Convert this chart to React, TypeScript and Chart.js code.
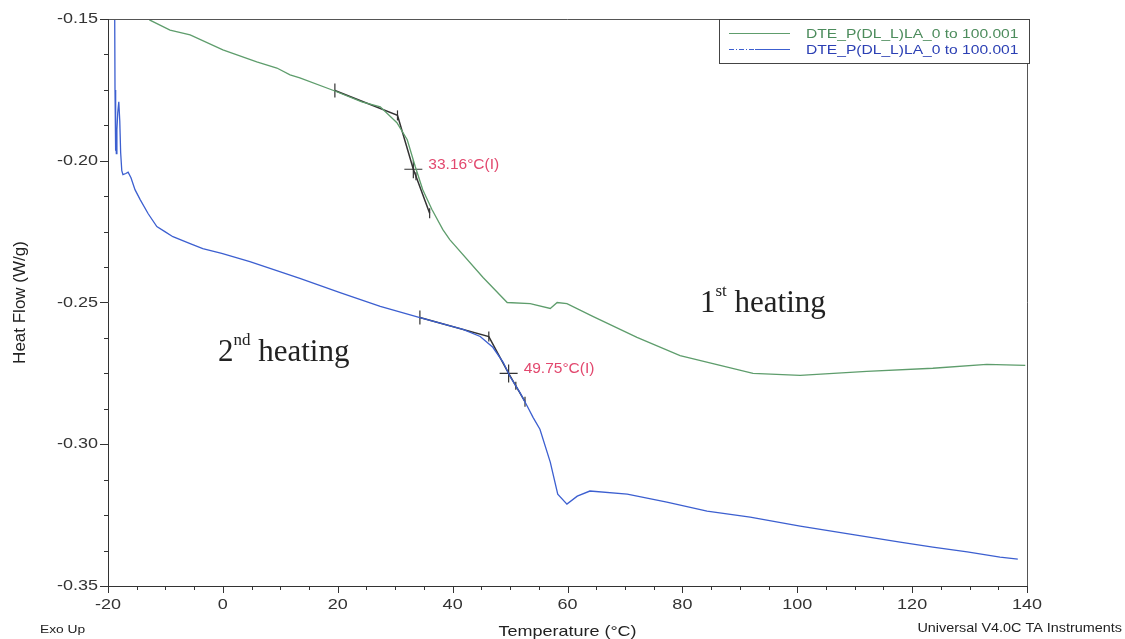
import { useEffect, useRef } from "react";
import { Chart, registerables } from "chart.js";

Chart.register(...registerables);

// ---- DSC run: first heating ----
const firstTemp = [
  -13.5, -12.7, -9.2, -5.7, 0.0, 5.9, 9.4, 11.7, 13.4, 19.5, 24.2, 27.4, 30.3, 32.1,
  33.5, 34.8, 36.4, 38.3, 39.5, 45.3, 49.5, 53.5, 57.0, 58.2, 59.9, 64.4, 72.1, 79.6,
  92.3, 100.5, 112.1, 123.6, 133.0, 139.7,
];
const firstFlow = [
  -0.1488, -0.1504, -0.1539, -0.1556, -0.1609, -0.1651, -0.1673, -0.1697, -0.1708,
  -0.1754, -0.1792, -0.181, -0.1866, -0.1926, -0.2021, -0.2102, -0.2172, -0.2243,
  -0.2278, -0.2412, -0.25, -0.2504, -0.2521, -0.25, -0.2504, -0.2549, -0.2623, -0.2687,
  -0.275, -0.2757, -0.2743, -0.2732, -0.2718, -0.2722,
];

// ---- DSC run: second heating ----
const secondTemp = [
  -18.85, -18.78, -18.72, -18.62, -18.55, -18.45, -18.3, -18.12, -17.95, -17.8, -17.6,
  -17.4, -16.9, -16.5, -16.0, -15.3, -14.4, -13.0, -11.5, -10.1, -8.7, -5.7, -3.5, -0.2,
  4.7, 9.9, 13.4, 20.4, 27.4, 34.3, 41.8, 44.8, 47.0, 48.8, 50.0, 51.7, 53.0, 54.0, 55.2,
  57.0, 58.3, 59.9, 61.7, 63.9, 70.4, 77.3, 84.3, 91.8, 100.5, 109.2, 117.9, 123.6,
  129.6, 135.3, 138.4,
];
const secondFlow = [
  -0.14, -0.175, -0.1965, -0.19, -0.1975, -0.189, -0.183, -0.1792, -0.186, -0.197,
  -0.2035, -0.2049, -0.2045, -0.204, -0.206, -0.2102, -0.2137, -0.2187, -0.2232, -0.225,
  -0.2268, -0.2292, -0.231, -0.2327, -0.2356, -0.2391, -0.2415, -0.2465, -0.2514,
  -0.2553, -0.2595, -0.262, -0.2658, -0.2711, -0.2761, -0.2817, -0.2866, -0.2905,
  -0.2947, -0.3063, -0.3176, -0.3211, -0.3183, -0.3165, -0.3176, -0.3204, -0.3236,
  -0.3257, -0.3289, -0.3317, -0.3345, -0.3363, -0.338, -0.3398, -0.3405,
];

// ---- Glass transition construction lines (index 2 = inflection point) ----
const onsetFirstTemp = [19.5, 30.4, 33.16, 33.62, 36.0];
const onsetFirstFlow = [-0.1752, -0.184, -0.203, -0.2055, -0.2185];
const onsetSecondTemp = [34.3, 46.3, 49.75, 51.0, 52.6];
const onsetSecondFlow = [-0.2553, -0.262, -0.275, -0.2794, -0.285];
const inflectionIndex = 2;

const seriesLabels = ["DTE_P(DL_L)LA_0 to 100.001", "DTE_P(DL_L)LA_0 to 100.001"];

// ---- Axes ----
const xTickLabels = [-20, 0, 20, 40, 60, 80, 100, 120, 140];
const yTickLabels = [-0.15, -0.2, -0.25, -0.3, -0.35];
const xMinorStep = 5;
const yMinorStep = 0.0125;

const GREEN = "#5e9d6c";
const BLUE = "#3c5fd0";
const GREEN_TEXT = "#4c8c5c";
const BLUE_TEXT = "#2c40b4";
const PINK = "#e2486e";
const INK = "#333333";
const SANS = '"Liberation Sans", Arial, sans-serif';
const SERIF = '"Liberation Serif", "Times New Roman", serif';
const STRETCH = 1.2;

const toPoints = (xs: number[], ys: number[]) => xs.map((x, i) => ({ x, y: ys[i] }));

function drawText(
  ctx: CanvasRenderingContext2D,
  text: string,
  x: number,
  y: number,
  font: string,
  color: string,
  align: "left" | "center" | "right",
  sx = 1,
  baseline: CanvasTextBaseline = "alphabetic"
) {
  ctx.save();
  ctx.font = font;
  ctx.fillStyle = color;
  ctx.textBaseline = baseline;
  ctx.textAlign = "left";
  const w = ctx.measureText(text).width * sx;
  const x0 = align === "left" ? x : align === "center" ? x - w / 2 : x - w;
  ctx.translate(x0, y);
  ctx.scale(sx, 1);
  ctx.fillText(text, 0, 0);
  ctx.restore();
  return w;
}

// "1st heating" style annotation with a superscript ordinal
function drawOrdinal(
  ctx: CanvasRenderingContext2D,
  num: string,
  sup: string,
  rest: string,
  x: number,
  y: number
) {
  let cx = x;
  cx += drawText(ctx, num, cx, y, `31px ${SERIF}`, "#222", "left");
  cx += drawText(ctx, sup, cx, y - 16, `17px ${SERIF}`, "#222", "left");
  ctx.font = `31px ${SERIF}`;
  cx += ctx.measureText(" ").width;
  drawText(ctx, rest, cx, y, `31px ${SERIF}`, "#222", "left");
}

const framePlugin = {
  id: "taFrame",
  afterDraw(chart: any) {
    const { ctx, chartArea: a, scales } = chart;
    const xs = scales.x;
    const ys = scales.y;
    ctx.save();
    ctx.lineWidth = 1;

    // frame
    ctx.strokeStyle = "#555";
    ctx.beginPath();
    ctx.moveTo(a.left, a.top + 0.5);
    ctx.lineTo(a.right + 0.5, a.top + 0.5);
    ctx.lineTo(a.right + 0.5, a.bottom);
    ctx.stroke();
    ctx.strokeStyle = INK;
    ctx.beginPath();
    ctx.moveTo(a.left + 0.5, a.top);
    ctx.lineTo(a.left + 0.5, a.bottom + 0.5);
    ctx.lineTo(a.right + 0.5, a.bottom + 0.5);
    ctx.stroke();

    // x ticks
    const xMin = xTickLabels[0];
    const xMax = xTickLabels[xTickLabels.length - 1];
    ctx.beginPath();
    for (let t = xMin; t <= xMax + 1e-9; t += xMinorStep) {
      const px = Math.round(xs.getPixelForValue(t)) + 0.5;
      const major = xTickLabels.some((v) => Math.abs(v - t) < 1e-9);
      ctx.moveTo(px, a.bottom);
      ctx.lineTo(px, a.bottom + (major ? 7 : 4));
    }
    // y ticks
    const yMin = yTickLabels[yTickLabels.length - 1];
    const yMax = yTickLabels[0];
    for (let v = yMin; v <= yMax + 1e-9; v += yMinorStep) {
      const py = Math.round(ys.getPixelForValue(v)) + 0.5;
      const major = yTickLabels.some((m) => Math.abs(m - v) < 1e-9);
      ctx.moveTo(a.left, py);
      ctx.lineTo(a.left - (major ? 8 : 4), py);
    }
    ctx.stroke();

    // tick labels
    xTickLabels.forEach((t) => {
      drawText(ctx, String(t), xs.getPixelForValue(t), a.bottom + 23, `15px ${SANS}`, INK, "center", STRETCH);
    });
    yTickLabels.forEach((v) => {
      drawText(ctx, v.toFixed(2), a.left - 10, ys.getPixelForValue(v), `15px ${SANS}`, INK, "right", STRETCH, "middle");
    });

    // axis titles and footer
    drawText(ctx, "Temperature (°C)", (a.left + a.right) / 2, 636, `15px ${SANS}`, "#222", "center", STRETCH);
    drawText(ctx, "Exo Up", 40, 633, `11.5px ${SANS}`, "#222", "left", STRETCH);
    drawText(ctx, "Universal V4.0C TA Instruments", 1122, 632, `12px ${SANS}`, "#222", "right", STRETCH);
    ctx.save();
    ctx.translate(20, (a.top + a.bottom) / 2);
    ctx.rotate(-Math.PI / 2);
    drawText(ctx, "Heat Flow (W/g)", 0, 0, `17px ${SANS}`, "#222", "center", 1, "middle");
    ctx.restore();

    // inflection labels
    const cross1 = { x: xs.getPixelForValue(onsetFirstTemp[inflectionIndex]), y: ys.getPixelForValue(onsetFirstFlow[inflectionIndex]) };
    const cross2 = { x: xs.getPixelForValue(onsetSecondTemp[inflectionIndex]), y: ys.getPixelForValue(onsetSecondFlow[inflectionIndex]) };
    drawText(ctx, `${onsetFirstTemp[inflectionIndex].toFixed(2)}°C(I)`, cross1.x + 15, cross1.y, `15.5px ${SANS}`, PINK, "left");
    drawText(ctx, `${onsetSecondTemp[inflectionIndex].toFixed(2)}°C(I)`, cross2.x + 15, cross2.y, `15.5px ${SANS}`, PINK, "left");

    // run annotations
    drawOrdinal(ctx, "1", "st", "heating", xs.getPixelForValue(83.06), ys.getPixelForValue(-0.2535));
    drawOrdinal(ctx, "2", "nd", "heating", xs.getPixelForValue(-0.85), ys.getPixelForValue(-0.2708));

    // legend box
    const bw = 310;
    const bh = 44;
    const bx = a.right + 2 - bw;
    const by = a.top;
    ctx.fillStyle = "#fff";
    ctx.fillRect(bx, by, bw, bh);
    ctx.strokeStyle = "#444";
    ctx.strokeRect(bx + 0.5, by + 0.5, bw, bh);
    const rows = [
      { y: by + 14, color: GREEN, text: GREEN_TEXT, dashed: false },
      { y: by + 30, color: BLUE, text: BLUE_TEXT, dashed: true },
    ];
    rows.forEach((r, i) => {
      ctx.strokeStyle = r.color;
      ctx.lineWidth = 1.2;
      if (r.dashed) {
        ctx.setLineDash([5, 2, 1, 2]);
        ctx.beginPath();
        ctx.moveTo(bx + 10, r.y + 0.5);
        ctx.lineTo(bx + 36, r.y + 0.5);
        ctx.stroke();
        ctx.setLineDash([]);
        ctx.beginPath();
        ctx.moveTo(bx + 36, r.y + 0.5);
        ctx.lineTo(bx + 71, r.y + 0.5);
        ctx.stroke();
      } else {
        ctx.beginPath();
        ctx.moveTo(bx + 10, r.y + 0.5);
        ctx.lineTo(bx + 71, r.y + 0.5);
        ctx.stroke();
      }
      drawText(ctx, seriesLabels[i], bx + 87, r.y + 1, `13px ${SANS}`, r.text, "left", STRETCH, "middle");
    });
    ctx.restore();
  },
};

function onsetDataset(temps: number[], flows: number[]) {
  return {
    label: "onset",
    data: toPoints(temps, flows),
    showLine: true,
    borderColor: INK,
    borderWidth: 1.5,
    pointStyle: temps.map((_, i) => (i === inflectionIndex ? "cross" : "line")),
    rotation: temps.map((_, i) => (i === inflectionIndex ? 0 : 90)),
    pointRadius: [7, 5, 9, 4, 5],
    pointBorderColor: INK,
    pointBorderWidth: 1.2,
    pointBackgroundColor: INK,
  };
}

export default function App() {
  const canvasRef = useRef<HTMLCanvasElement | null>(null);

  useEffect(() => {
    if (!canvasRef.current) return;
    const chart = new Chart(canvasRef.current, {
      type: "scatter",
      data: {
        datasets: [
          {
            label: seriesLabels[0],
            data: toPoints(firstTemp, firstFlow),
            showLine: true,
            borderColor: GREEN,
            borderWidth: 1.3,
            pointRadius: 0,
          },
          {
            label: seriesLabels[1],
            data: toPoints(secondTemp, secondFlow),
            showLine: true,
            borderColor: BLUE,
            borderWidth: 1.3,
            pointRadius: 0,
          },
          onsetDataset(onsetFirstTemp, onsetFirstFlow),
          onsetDataset(onsetSecondTemp, onsetSecondFlow),
        ] as any,
      },
      options: {
        responsive: false,
        animation: false,
        devicePixelRatio: 1,
        layout: { padding: { top: 19, right: 98, left: 0, bottom: 0 } },
        plugins: { legend: { display: false }, tooltip: { enabled: false } },
        scales: {
          x: {
            type: "linear",
            min: xTickLabels[0],
            max: xTickLabels[xTickLabels.length - 1],
            ticks: { display: false },
            grid: { display: false },
            border: { display: false },
            afterFit: (s: any) => {
              s.height = 53;
            },
          },
          y: {
            type: "linear",
            min: yTickLabels[yTickLabels.length - 1],
            max: yTickLabels[0],
            ticks: { display: false },
            grid: { display: false },
            border: { display: false },
            afterFit: (s: any) => {
              s.width = 108;
            },
          },
        },
      } as any,
      plugins: [framePlugin],
    });
    return () => chart.destroy();
  }, []);

  return (
    <div style={{ position: "fixed", left: 0, top: 0, width: 1125, height: 639, background: "#fff" }}>
      <canvas ref={canvasRef} width={1125} height={639} style={{ display: "block" }} />
    </div>
  );
}
